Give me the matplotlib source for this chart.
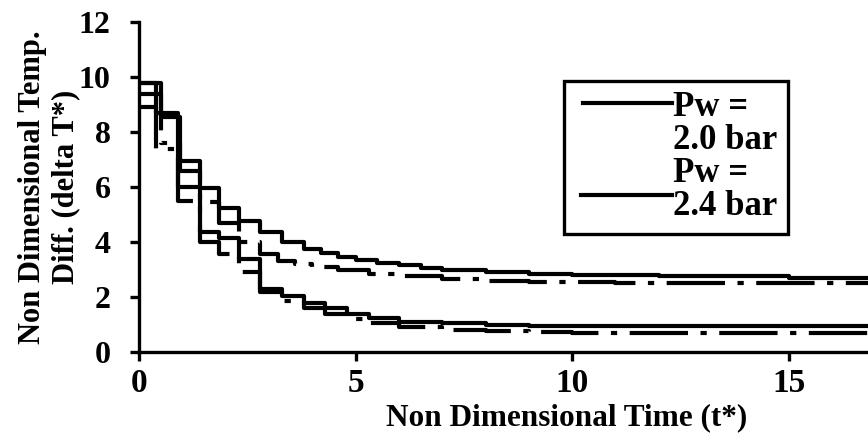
import numpy as np
import matplotlib
matplotlib.use("Agg")
import matplotlib.pyplot as plt
from matplotlib.legend_handler import HandlerLine2D

plt.rcParams['font.family'] = ['Liberation Serif', 'DejaVu Serif']
plt.rcParams['font.weight'] = 'bold'

# Pw = 2.0 bar (solid) and its dash-dot companion
t_20 = [0, 0.5, 0.95, 1.4, 1.85, 2.3, 2.8, 3.3, 3.8, 4.2, 4.6, 5.0, 5.5, 6.0, 6.5,
        7.0, 8.0, 9.0, 10, 11, 12, 13, 14, 15, 16, 17]
dT_20 = [9.8, 8.55, 6.95, 5.95, 5.25, 4.75, 4.35, 4.0, 3.75, 3.6, 3.45, 3.35, 3.25,
         3.15, 3.05, 3.0, 2.9, 2.85, 2.8, 2.8, 2.75, 2.75, 2.75, 2.7, 2.7, 2.7]
t_20b = [0, 0.5, 0.95, 1.4, 1.85, 2.3, 2.8, 3.2, 3.6, 4.0, 4.6, 5.3, 6.0, 7.0, 8.0,
         9.0, 10, 11, 12, 13, 14, 15, 16, 17]
dT_20b = [9.4, 7.6, 6.6, 5.45, 4.7, 4.0, 3.55, 3.3, 3.2, 3.1, 3.0, 2.85, 2.75, 2.65,
          2.6, 2.55, 2.55, 2.5, 2.5, 2.5, 2.5, 2.5, 2.5, 2.5]

# Pw = 2.4 bar (solid) and its dash-dot companion
t_24 = [0, 0.4, 0.9, 1.4, 1.85, 2.3, 2.8, 3.3, 3.8, 4.3, 4.8, 5.3, 6.0, 7.0, 8.0,
        9.0, 10, 11, 12, 13, 14, 15, 16, 17]
dT_24 = [9.8, 8.7, 6.0, 4.35, 4.15, 3.4, 2.3, 2.05, 1.8, 1.6, 1.4, 1.25, 1.1, 1.05,
         1.0, 0.95, 0.95, 0.95, 0.95, 0.95, 0.95, 0.95, 0.95, 0.95]
t_24b = [0, 0.4, 0.9, 1.4, 1.85, 2.3, 2.8, 3.3, 3.8, 4.3, 4.8, 5.3, 6.0, 7.0, 8.0,
         9.0, 10, 11, 12, 13, 14, 15, 16, 17]
dT_24b = [8.9, 7.4, 5.5, 4.0, 3.55, 2.9, 2.2, 1.85, 1.6, 1.4, 1.2, 1.05, 0.9, 0.8,
          0.75, 0.72, 0.7, 0.7, 0.7, 0.68, 0.68, 0.68, 0.68, 0.68]

labels = ['Pw =\n2.0 bar', 'Pw =\n2.4 bar']
xticks = [0, 5, 10, 15]
yticks = [0, 2, 4, 6, 8, 10, 12]


class ShiftedLine(HandlerLine2D):
    # moves the legend sample line up by dy points, trims dx points on the left
    def __init__(self, dy, dx=0, **kw):
        super().__init__(**kw)
        self.dy = dy
        self.dx = dx

    def create_artists(self, *args, **kw):
        arts = super().create_artists(*args, **kw)
        for a in arts:
            xd = np.asarray(a.get_xdata(), dtype=float)
            if len(xd) > 1:
                xd[0] += self.dx
                a.set_xdata(xd)
            a.set_ydata(np.asarray(a.get_ydata()) + self.dy)
        return arts


fig = plt.figure(figsize=(8.68, 4.46), dpi=100)
ax = fig.add_axes([139 / 868, 1 - 352 / 446, 1 - 139 / 868, 330 / 446])

lw = 3.0
dashdot = (0, (14, 3, 1.5, 3))
l1, = ax.plot(t_20, dT_20, color='black', lw=lw, drawstyle='steps-post')
ax.plot(t_20b, dT_20b, color='black', lw=lw, ls=dashdot, drawstyle='steps-post')
l2, = ax.plot(t_24, dT_24, color='black', lw=lw, drawstyle='steps-post')
ax.plot(t_24b, dT_24b, color='black', lw=lw, ls=dashdot, drawstyle='steps-post')

ax.set_xlim(0, 16.83)
ax.set_ylim(0, 12)
ax.set_xticks(xticks)
ax.set_yticks(yticks)

for s in ['top', 'right']:
    ax.spines[s].set_visible(False)
for s in ['left', 'bottom']:
    ax.spines[s].set_linewidth(2.4)
ax.tick_params(direction='out', length=6.5, width=2.4)
ax.tick_params(axis='x', labelsize=24, pad=5)
ax.tick_params(axis='y', labelsize=23, pad=14)

ax.set_xlabel('Non Dimensional Time (t*)', fontsize=22.5, fontweight='bold')
ax.xaxis.set_label_coords(0.587, -0.155)
ax.set_ylabel('Non Dimensional Temp.\nDiff. (delta T*)', fontsize=22,
              fontweight='bold', linespacing=1.2)
ax.yaxis.set_label_coords(-0.08, 0.5)

leg = ax.legend([l1, l2], labels, loc='upper right',
                bbox_to_anchor=(788 / 868, 1 - 81 / 446),
                bbox_transform=fig.transFigure, borderaxespad=0,
                prop={'weight': 'bold', 'size': 25},
                handlelength=2.8, handletextpad=0.05, labelspacing=0.0,
                borderpad=0.3, fancybox=False, framealpha=1,
                edgecolor='black',
                handler_map={l1: ShiftedLine(15.5, 6), l2: ShiftedLine(-3, 5)})
leg.get_frame().set_linewidth(2.4)
for txt in leg.get_texts():
    txt.set_linespacing(1.0)

fig.savefig('out.png', dpi=100)
